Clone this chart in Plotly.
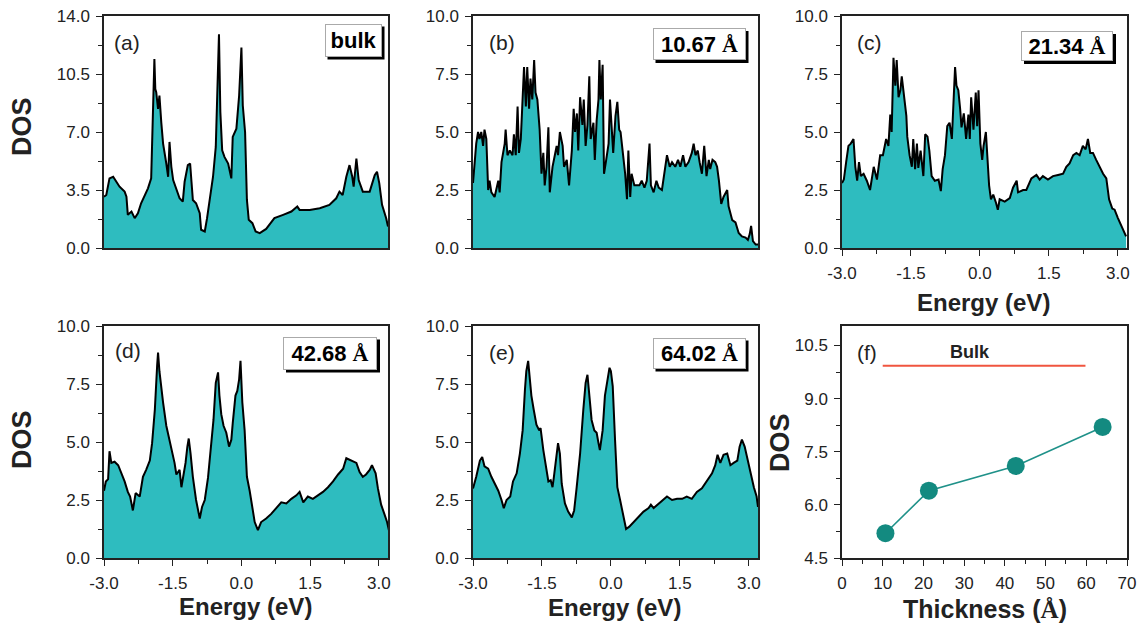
import plotly.graph_objects as go

# ---------------- data ----------------
E_a = [-3.00, -2.95, -2.88, -2.80, -2.73, -2.66, -2.55, -2.51, -2.48, -2.40,
       -2.33, -2.26, -2.19, -2.11, -2.04, -1.97, -1.93, -1.90, -1.88, -1.86,
       -1.82, -1.79, -1.75, -1.71, -1.64, -1.60, -1.57, -1.53, -1.49, -1.42,
       -1.35, -1.28, -1.24, -1.17, -1.12, -1.09, -1.06, -0.99, -0.91, -0.88,
       -0.80, -0.75, -0.69, -0.62, -0.56, -0.53, -0.49, -0.46, -0.42, -0.37,
       -0.29, -0.22, -0.19, -0.11, -0.05, 0.00, 0.03, 0.08, 0.12, 0.16,
       0.24, 0.31, 0.40, 0.54, 0.72, 0.91, 1.09, 1.22, 1.27, 1.49,
       1.71, 1.92, 2.07, 2.14, 2.21, 2.29, 2.36, 2.42, 2.45, 2.51,
       2.56, 2.65, 2.80, 2.91, 2.96, 3.01, 3.07, 3.16, 3.20]
D_a = [3.1, 3.2, 4.2, 4.3, 4.0, 3.7, 3.4, 3.1, 2.0, 2.2,
       1.8, 2.1, 2.7, 3.2, 3.6, 4.2, 8.2, 11.4, 9.6, 9.4,
       8.4, 9.2, 7.6, 6.3, 5.1, 4.3, 6.4, 4.9, 4.1, 3.5,
       3.0, 2.8, 4.0, 5.0, 5.1, 4.0, 2.9, 2.7, 2.1, 1.1,
       1.0, 1.8, 3.1, 4.3, 6.1, 9.0, 12.9, 8.2, 5.9, 5.5,
       5.1, 4.2, 6.7, 7.2, 9.2, 12.1, 8.6, 7.0, 2.9, 1.7,
       1.5, 1.0, 0.9, 1.15, 1.8, 2.0, 2.2, 2.5, 2.3, 2.3,
       2.4, 2.6, 3.0, 3.4, 3.2, 4.3, 5.0, 4.3, 3.7, 5.4,
       4.1, 3.4, 3.4, 4.4, 4.6, 3.9, 2.6, 1.8, 1.3]

E_b = [-3.00, -2.96, -2.93, -2.89, -2.86, -2.82, -2.78, -2.75, -2.71, -2.67,
       -2.64, -2.60, -2.53, -2.45, -2.42, -2.38, -2.35, -2.31, -2.29, -2.25,
       -2.20, -2.14, -2.11, -2.07, -2.03, -2.00, -1.96, -1.89, -1.85, -1.82,
       -1.78, -1.75, -1.71, -1.67, -1.64, -1.60, -1.55, -1.51, -1.47, -1.44,
       -1.40, -1.36, -1.33, -1.27, -1.22, -1.18, -1.15, -1.11, -1.05, -1.02,
       -0.96, -0.91, -0.85, -0.81, -0.78, -0.74, -0.71, -0.67, -0.62, -0.59,
       -0.55, -0.51, -0.47, -0.44, -0.38, -0.35, -0.31, -0.27, -0.25, -0.22,
       -0.18, -0.15, -0.11, -0.05, -0.02, 0.02, 0.05, 0.10, 0.14, 0.18,
       0.21, 0.26, 0.31, 0.35, 0.38, 0.42, 0.45, 0.51, 0.56, 0.62,
       0.67, 0.73, 0.78, 0.84, 0.87, 0.93, 0.99, 1.04, 1.11, 1.17,
       1.22, 1.28, 1.33, 1.40, 1.46, 1.51, 1.57, 1.62, 1.69, 1.76,
       1.80, 1.84, 1.89, 1.93, 1.98, 2.03, 2.08, 2.13, 2.16, 2.21,
       2.27, 2.31, 2.35, 2.40, 2.45, 2.53, 2.56, 2.64, 2.71, 2.78,
       2.85, 2.93, 2.98, 3.02, 3.05, 3.09, 3.15, 3.20]
D_b = [2.8, 3.7, 4.5, 5.0, 4.7, 5.0, 4.4, 5.1, 4.7, 2.5,
       2.9, 2.4, 2.2, 2.9, 2.4, 3.7, 4.0, 4.5, 5.1, 4.0,
       4.2, 4.0, 4.9, 4.0, 6.1, 4.1, 4.7, 7.8, 6.1, 7.8,
       6.0, 7.3, 6.4, 8.1, 6.7, 6.4, 5.1, 3.2, 4.1, 2.7,
       3.5, 5.2, 2.4, 3.5, 4.0, 4.4, 4.0, 5.0, 4.4, 3.5,
       3.8, 2.7, 4.2, 6.0, 5.0, 5.8, 4.2, 6.5, 5.3, 6.4,
       4.4, 5.3, 7.4, 4.7, 5.4, 3.8, 5.5, 6.4, 8.1, 6.4,
       7.9, 3.2, 3.7, 4.5, 6.4, 4.7, 4.1, 5.7, 6.3, 5.1,
       5.0, 4.1, 3.2, 2.1, 4.2, 2.2, 3.2, 2.7, 2.7, 2.7,
       2.9, 2.6, 2.9, 4.5, 2.7, 2.4, 2.9, 2.6, 2.5, 3.4,
       4.0, 3.5, 3.7, 3.5, 3.8, 3.5, 4.0, 3.5, 3.7, 4.1,
       4.5, 4.0, 4.2, 3.7, 3.2, 4.4, 3.1, 3.8, 3.4, 3.8,
       3.7, 3.5, 2.9, 1.9, 2.2, 2.5, 1.8, 1.2, 1.1, 0.65,
       0.5, 0.45, 0.35, 0.6, 0.95, 0.3, 0.15, 0.15]

E_c = [-3.00, -2.96, -2.91, -2.86, -2.81, -2.75, -2.71, -2.67, -2.63, -2.59,
       -2.53, -2.46, -2.39, -2.31, -2.24, -2.17, -2.11, -2.04, -1.99, -1.95,
       -1.92, -1.88, -1.84, -1.81, -1.77, -1.73, -1.70, -1.65, -1.60, -1.58,
       -1.53, -1.48, -1.45, -1.41, -1.37, -1.34, -1.29, -1.23, -1.19, -1.14,
       -1.10, -1.05, -0.98, -0.90, -0.85, -0.81, -0.76, -0.71, -0.66, -0.61,
       -0.58, -0.54, -0.51, -0.47, -0.43, -0.40, -0.35, -0.30, -0.25, -0.22,
       -0.19, -0.14, -0.09, -0.06, -0.03, 0.01, 0.05, 0.08, 0.13, 0.16,
       0.20, 0.24, 0.29, 0.35, 0.39, 0.43, 0.54, 0.65, 0.72, 0.80,
       0.83, 0.94, 1.01, 1.12, 1.23, 1.30, 1.37, 1.48, 1.59, 1.70,
       1.81, 1.88, 1.95, 2.03, 2.10, 2.17, 2.24, 2.30, 2.35, 2.40,
       2.46, 2.53, 2.60, 2.68, 2.75, 2.81, 2.88, 2.93, 3.00, 3.07,
       3.12, 3.18]
D_c = [2.8, 2.95, 3.7, 4.4, 4.5, 4.7, 3.5, 2.9, 3.7, 3.1,
       3.2, 2.9, 2.5, 3.5, 2.95, 4.0, 4.0, 4.7, 4.4, 5.75,
       5.0, 8.2, 7.0, 8.1, 6.5, 6.8, 7.4, 6.5, 5.7, 4.8,
       4.0, 3.5, 4.7, 3.4, 4.5, 3.45, 4.2, 3.1, 4.9, 4.8,
       4.2, 3.1, 2.9, 2.95, 2.45, 3.4, 4.0, 5.25, 5.4, 4.7,
       6.4, 7.8, 7.0, 6.8, 6.0, 5.2, 5.8, 4.7, 5.75, 4.7,
       6.5, 5.1, 6.7, 5.25, 6.8, 4.5, 3.8, 4.4, 5.0, 4.1,
       2.7, 2.1, 2.3, 1.95, 1.65, 2.1, 2.0, 2.15, 2.6, 2.9,
       2.4, 2.5, 2.5, 3.0, 3.15, 2.95, 3.1, 2.95, 3.1, 3.15,
       3.2, 3.5, 3.65, 4.0, 4.1, 4.0, 4.4, 4.25, 4.7, 4.1,
       4.1, 3.8, 3.5, 3.2, 3.0, 2.1, 1.7, 1.65, 1.3, 1.0,
       0.8, 0.5]

E_d = [-3.00, -2.96, -2.91, -2.88, -2.84, -2.77, -2.69, -2.62, -2.55, -2.48,
       -2.43, -2.37, -2.31, -2.22, -2.15, -2.08, -2.00, -1.95, -1.89, -1.84,
       -1.82, -1.79, -1.75, -1.71, -1.64, -1.57, -1.51, -1.46, -1.42, -1.35,
       -1.31, -1.26, -1.22, -1.18, -1.15, -1.11, -1.06, -0.99, -0.91, -0.86,
       -0.80, -0.73, -0.66, -0.61, -0.56, -0.51, -0.48, -0.44, -0.39, -0.33,
       -0.27, -0.22, -0.19, -0.13, -0.09, -0.05, -0.02, 0.02, 0.07, 0.12,
       0.18, 0.24, 0.29, 0.36, 0.43, 0.54, 0.65, 0.76, 0.87, 0.98,
       1.09, 1.20, 1.27, 1.35, 1.45, 1.56, 1.67, 1.78, 1.89, 2.00,
       2.11, 2.22, 2.29, 2.40, 2.51, 2.58, 2.65, 2.72, 2.80, 2.85,
       2.93, 2.98, 3.05, 3.12, 3.18, 3.22]
D_d = [2.9, 3.3, 3.4, 4.6, 4.1, 4.15, 4.0, 3.65, 3.3, 2.85,
       2.65, 2.05, 2.8, 2.65, 3.5, 3.8, 4.2, 4.95, 6.4, 8.3,
       8.85, 8.05, 7.25, 6.7, 5.7, 5.1, 4.65, 4.1, 3.6, 3.8,
       3.05, 3.65, 4.1, 4.8, 5.15, 4.5, 3.5, 2.5, 1.7, 2.2,
       2.5, 3.45, 4.95, 5.95, 7.55, 8.0, 7.0, 6.2, 5.7, 5.4,
       4.8, 5.1, 5.8, 7.0, 7.2, 7.7, 8.5, 6.7, 5.5, 3.5,
       2.9, 2.2, 1.55, 1.2, 1.55, 1.7, 1.9, 2.15, 2.4, 2.35,
       2.55, 2.7, 2.85, 2.4, 2.65, 2.55, 2.7, 2.85, 3.05, 3.3,
       3.6, 3.85, 4.3, 4.2, 4.1, 3.7, 3.5, 3.6, 3.8, 4.0,
       3.65, 3.0, 2.3, 1.9, 1.55, 1.2]

E_e = [-3.00, -2.93, -2.85, -2.80, -2.75, -2.67, -2.60, -2.53, -2.45, -2.38,
       -2.33, -2.27, -2.19, -2.13, -2.05, -1.98, -1.92, -1.87, -1.84, -1.80,
       -1.76, -1.73, -1.68, -1.62, -1.56, -1.53, -1.47, -1.41, -1.36, -1.31,
       -1.27, -1.24, -1.20, -1.15, -1.11, -1.07, -1.00, -0.93, -0.85, -0.80,
       -0.75, -0.67, -0.60, -0.55, -0.51, -0.47, -0.42, -0.36, -0.31, -0.27,
       -0.24, -0.18, -0.13, -0.08, -0.03, 0.00, 0.04, 0.09, 0.14, 0.20,
       0.25, 0.33, 0.40, 0.49, 0.60, 0.71, 0.82, 0.87, 0.93, 1.04,
       1.15, 1.22, 1.33, 1.44, 1.55, 1.65, 1.76, 1.87, 1.98, 2.09,
       2.20, 2.27, 2.32, 2.38, 2.45, 2.53, 2.60, 2.67, 2.75, 2.80,
       2.85, 2.91, 2.96, 3.04, 3.11, 3.17, 3.20]
D_e = [3.0, 3.5, 4.2, 4.35, 3.95, 3.85, 3.5, 3.2, 2.9, 2.5,
       2.15, 2.5, 2.65, 3.3, 3.65, 4.5, 5.5, 7.25, 8.05, 8.5,
       7.7, 7.0, 6.4, 5.75, 5.5, 5.6, 4.65, 3.95, 3.3, 3.35,
       3.05, 3.5, 4.2, 4.95, 4.5, 3.2, 2.35, 2.0, 1.75, 2.05,
       2.95, 4.5, 6.4, 7.55, 7.9, 7.0, 5.95, 5.5, 5.4, 4.95,
       4.65, 5.5, 7.0, 7.6, 8.2, 8.05, 7.4, 5.1, 3.05, 2.5,
       2.0, 1.25, 1.35, 1.55, 1.8, 2.0, 2.15, 2.3, 2.15, 2.35,
       2.55, 2.65, 2.5, 2.55, 2.55, 2.65, 2.55, 2.85, 3.0, 3.3,
       3.65, 4.0, 4.45, 4.1, 4.45, 4.5, 4.0, 4.1, 4.2, 4.8,
       5.1, 4.8, 4.35, 3.65, 3.05, 2.65, 2.2]

thickness = [10.67, 21.34, 42.68, 64.02]
peak_dos = [5.2, 6.4, 7.1, 8.2]
bulk_x = [10.0, 59.8]
bulk_y = [9.93, 9.93]

panel_tags = ["(a)", "(b)", "(c)", "(d)", "(e)", "(f)"]
size_tags = ["bulk", "10.67 Å", "21.34 Å", "42.68 Å", "64.02 Å"]
e_tickvals = [-3.0, -1.5, 0.0, 1.5, 3.0]
e_ticktext = ["-3.0", "-1.5", "0.0", "1.5", "3.0"]

# ---------------- style / layout ----------------
W, H = 1141, 624
FILL = "#2ebcbf"
AX = "#222222"
FONT = "Liberation Sans, Arial, sans-serif"
SERIF_SPAN = "<span style='font-family:Liberation Serif'>Å</span>"


def fx(p):
    return p / W


def fy(p):
    return 1 - p / H


cols = [(104, 388), (473, 758), (842, 1127)]
rows = [(16, 248), (326, 558)]

fig = go.Figure()

energy_sets = [(E_a, D_a), (E_b, D_b), (E_c, D_c), (E_d, D_d), (E_e, D_e)]
for i, (ex, dy) in enumerate(energy_sets):
    n = i + 1
    fig.add_trace(go.Scatter(
        x=ex, y=dy, mode="lines", fill="tozeroy", fillcolor=FILL,
        line=dict(color="black", width=2),
        xaxis="x" if n == 1 else f"x{n}", yaxis="y" if n == 1 else f"y{n}",
        showlegend=False, hoverinfo="skip"))

fig.add_trace(go.Scatter(
    x=bulk_x, y=bulk_y, mode="lines", line=dict(color="#f0553f", width=2),
    xaxis="x6", yaxis="y6", showlegend=False))
fig.add_trace(go.Scatter(
    x=thickness, y=peak_dos, mode="lines+markers",
    line=dict(color="#1f9189", width=1.6),
    marker=dict(size=18, color="#138a80"),
    xaxis="x6", yaxis="y6", showlegend=False))

base = dict(showline=True, linecolor=AX, linewidth=1.5, mirror=True,
            showgrid=False, zeroline=False, ticks="outside", ticklen=6,
            tickwidth=1.2, tickcolor=AX, automargin=False,
            tickfont=dict(family=FONT, size=17, color=AX))
minor_base = dict(ticks="outside", ticklen=4, tickcolor=AX, tickwidth=1.2)

layout = {}
panel_pos = [(0, 0), (0, 1), (0, 2), (1, 0), (1, 1), (1, 2)]
for i, (r, c) in enumerate(panel_pos):
    n = i + 1
    xname = "xaxis" if n == 1 else f"xaxis{n}"
    yname = "yaxis" if n == 1 else f"yaxis{n}"
    xa = dict(base)
    ya = dict(base)
    xa["domain"] = [fx(cols[c][0]), fx(cols[c][1])]
    ya["domain"] = [fy(rows[r][1]), fy(rows[r][0])]
    xa["anchor"] = "y" if n == 1 else f"y{n}"
    ya["anchor"] = "x" if n == 1 else f"x{n}"
    xa["ticklabelstandoff"] = 3
    ya["ticklabelstandoff"] = 3
    if n <= 5:
        xa["range"] = [-3.0, 3.2]
        if n in (1, 2):
            xa["ticks"] = ""
            xa["showticklabels"] = False
        else:
            xa["tickmode"] = "array"
            xa["tickvals"] = e_tickvals
            xa["ticktext"] = e_ticktext
            xa["minor"] = dict(minor_base, tick0=-3.0, dtick=0.75)
        if n == 1:
            ya["range"] = [0, 14]
            ya["tick0"] = 0
            ya["dtick"] = 3.5
            ya["minor"] = dict(minor_base, dtick=1.75)
        else:
            ya["range"] = [0, 10]
            ya["tick0"] = 0
            ya["dtick"] = 2.5
            ya["minor"] = dict(minor_base, dtick=1.25)
        ya["tickformat"] = ".1f"
    else:
        xa["range"] = [0, 70]
        xa["tick0"] = 0
        xa["dtick"] = 10
        xa["minor"] = dict(minor_base, dtick=5)
        ya["range"] = [4.5, 11.05]
        ya["tick0"] = 4.5
        ya["dtick"] = 1.5
        ya["tickformat"] = ".1f"
        ya["minor"] = dict(minor_base, dtick=0.75)
    layout[xname] = xa
    layout[yname] = ya

annotations = []
shapes = []


def ann(text, x, y, size, bold=False, angle=0, **kw):
    t = f"<b>{text}</b>" if bold else text
    d = dict(text=t, x=fx(x), y=fy(y), xref="paper", yref="paper",
             showarrow=False, xanchor="center", yanchor="middle",
             textangle=angle, font=dict(family=FONT, size=size, color=AX))
    d.update(kw)
    annotations.append(d)


# axis titles
ann("DOS", 22, 127, 27, bold=True, angle=-90)
ann("DOS", 22, 440, 27, bold=True, angle=-90)
ann("DOS", 780, 443, 27, bold=True, angle=-90)
ann("Energy (eV)", 983, 302, 24, bold=True)
ann("Energy (eV)", 245, 606, 24, bold=True)
ann("Energy (eV)", 615, 607, 24, bold=True)
ann(f"Thickness ({SERIF_SPAN})", 985, 609, 25, bold=True)

# panel tags
tag_pos = [(127, 43), (502, 43), (869, 43), (128, 350), (502, 352), (867, 352)]
for t, (x, y) in zip(panel_tags, tag_pos):
    ann(t, x, y, 21)

# thickness boxes with drop shadow (shadow drawn as a shape)
box_geom = [(353, 40, 57, 33), (699, 44, 93, 32), (1067, 46, 92, 30),
            (330, 353, 94, 33), (699, 353, 93, 31)]
SH = 3
for t, (x, y, bw, bh) in zip(size_tags, box_geom):
    txt = t.replace("Å", SERIF_SPAN)
    shapes.append(dict(type="rect", xref="paper", yref="paper",
                       x0=fx(x - bw / 2 + SH), x1=fx(x + bw / 2 + SH),
                       y0=fy(y + bh / 2 + SH), y1=fy(y - bh / 2 + SH),
                       fillcolor="black", line=dict(width=0), layer="above"))
    annotations.append(dict(
        text=f"<b>{txt}</b>", x=fx(x), y=fy(y), xref="paper", yref="paper",
        showarrow=False, xanchor="center", yanchor="middle",
        width=bw - 2, height=bh - 2, borderpad=0, borderwidth=1,
        bgcolor="white", bordercolor="#aaaaaa", align="center",
        valign="middle", font=dict(family=FONT, size=22, color="black")))

# Bulk label in panel f
annotations.append(dict(text="<b>Bulk</b>", x=31.5, y=10.33, xref="x6",
                        yref="y6", showarrow=False,
                        font=dict(family=FONT, size=18, color=AX)))

fig.update_layout(
    width=W, height=H, margin=dict(l=0, r=0, t=0, b=0),
    paper_bgcolor="white", plot_bgcolor="white",
    annotations=annotations, shapes=shapes, **layout)

fig.write_html(
    "out.html",
    config={"displayModeBar": False},
    post_script="document.body.style.margin='0';"
                "document.body.style.overflow='hidden';")
